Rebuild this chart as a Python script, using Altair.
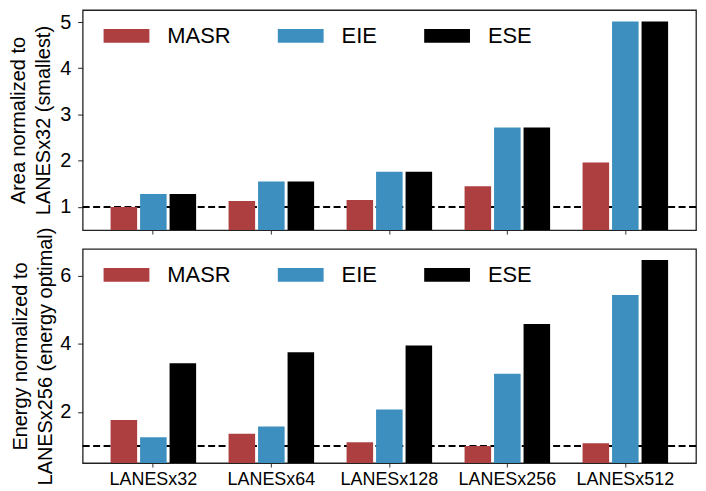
import altair as alt
import pandas as pd

configs = ["LANESx32", "LANESx64", "LANESx128", "LANESx256", "LANESx512"]
systems = ["MASR", "EIE", "ESE"]
colors = ["#ad3f40", "#3d8fbf", "#000000"]

area_masr = [1.00, 1.13, 1.15, 1.45, 1.96]
area_eie = [1.28, 1.55, 1.76, 2.72, 5.01]
area_ese = [1.28, 1.55, 1.76, 2.72, 5.01]

energy_masr = [1.76, 1.36, 1.11, 1.00, 1.08]
energy_eie = [1.26, 1.57, 2.07, 3.12, 5.43]
energy_ese = [3.43, 3.75, 3.95, 4.58, 6.46]

area_ticks = [1, 2, 3, 4, 5]
energy_ticks = [2, 4, 6]
area_domain = [0.5, 5.26]
energy_domain = [0.5, 6.78]
reference_level = [1.0]

FONT = "Liberation Sans"
RECT = "M-1,-0.3H1V0.3H-1Z"


def to_long(series):
    rows = []
    for s, vals in zip(systems, series):
        for c, v in zip(configs, vals):
            rows.append({"config": c, "system": s, "value": v})
    return pd.DataFrame(rows)


def panel(df, title, domain, ticks, show_labels, width, height, title_pad):
    bars = alt.Chart(df).mark_bar(clip=True).encode(
        x=alt.X(
            "config:N",
            sort=configs,
            scale=alt.Scale(paddingInner=0.25, paddingOuter=0.224),
            axis=alt.Axis(
                title=None,
                labels=show_labels,
                labelAngle=0,
                labelFontSize=18,
                labelPadding=4,
                tickSize=4,
                tickColor="#333333",
                domain=False,
            ),
        ),
        xOffset=alt.XOffset(
            "system:N",
            sort=systems,
            scale=alt.Scale(paddingInner=0.1, paddingOuter=0.05),
        ),
        y=alt.Y(
            "value:Q",
            scale=alt.Scale(domain=domain, zero=False, nice=False),
            axis=alt.Axis(
                values=ticks,
                title=title,
                titleFontSize=20,
                titleFontWeight="normal",
                titlePadding=title_pad,
                titleLineHeight=25,
                labelFontSize=20,
                labelPadding=7,
                tickSize=5,
                tickColor="#222222",
                domain=False,
                grid=False,
            ),
        ),
        y2=alt.datum(domain[0]),
        color=alt.Color(
            "system:N",
            sort=systems,
            scale=alt.Scale(domain=systems, range=colors),
            legend=alt.Legend(
                title=None,
                orient="none",
                legendX=21,
                legendY=3,
                direction="horizontal",
                columns=3,
                symbolType=RECT,
                symbolSize=2116,
                symbolStrokeWidth=0,
                symbolOpacity=1,
                labelFontSize=22,
                labelOffset=18,
                columnPadding=47,
                padding=0,
            ),
        ),
    )
    rule = alt.Chart(pd.DataFrame({"ref": reference_level})).mark_rule(
        color="black", strokeWidth=2, strokeDash=[7, 3.5]
    ).encode(y=alt.datum(reference_level[0]))
    return alt.layer(rule, bars).properties(width=width, height=height)


top = panel(
    to_long([area_masr, area_eie, area_ese]),
    ["Area normalized to", "LANESx32 (smallest)"],
    area_domain, area_ticks, False, 616, 221, 6,
)
bottom = panel(
    to_long([energy_masr, energy_eie, energy_ese]),
    ["Energy normalized to", "LANESx256 (energy optimal)"],
    energy_domain, energy_ticks, True, 616, 215, 4,
)

chart = (
    alt.vconcat(top, bottom, spacing=19, bounds="flush")
    .resolve_scale(color="independent")
    .resolve_legend(color="independent")
    .properties(padding=0)
    .configure(font=FONT)
    .configure_view(stroke="#222222", strokeWidth=1.3)
    .configure_axis(labelColor="black", titleColor="black", labelFont=FONT, titleFont=FONT)
    .configure_legend(labelFont=FONT, labelColor="black")
)

chart.save("out.html", embed_options={"renderer": "svg", "actions": False})
